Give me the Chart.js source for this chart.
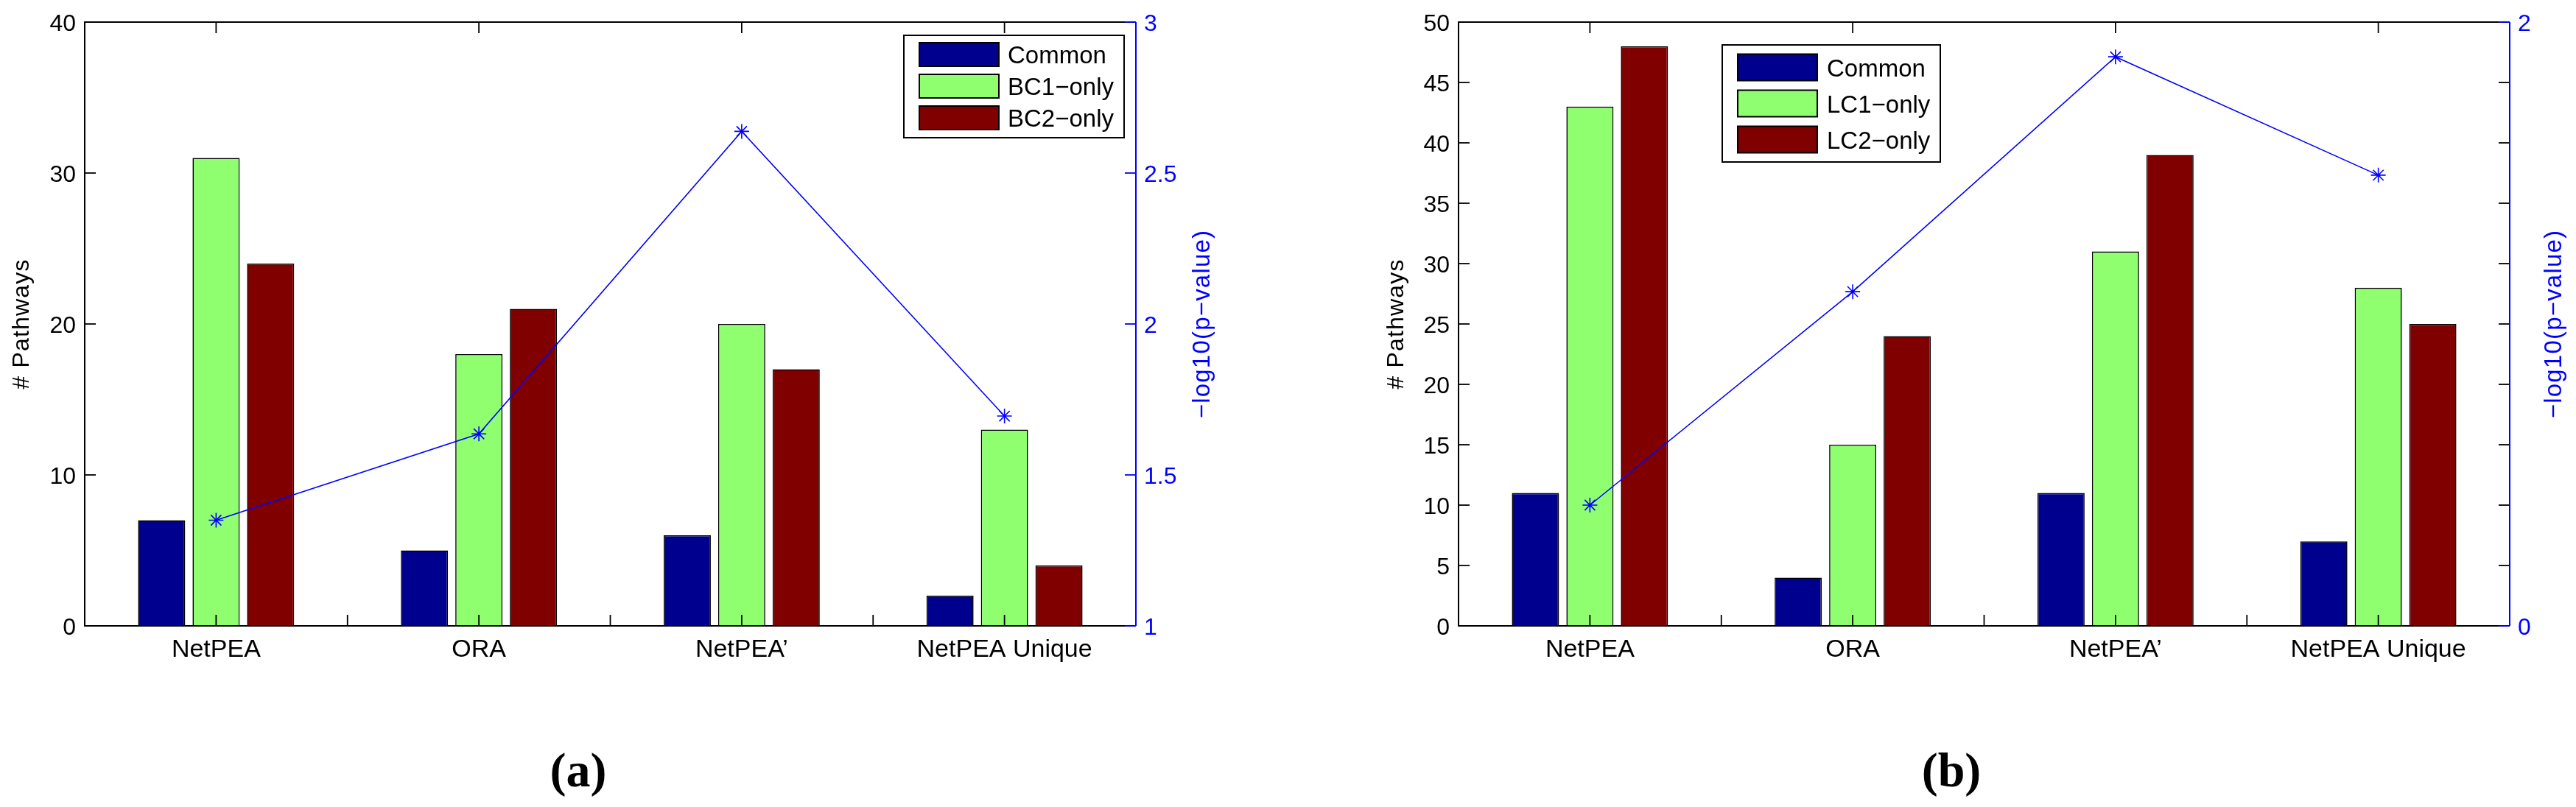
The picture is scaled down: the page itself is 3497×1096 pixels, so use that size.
<!DOCTYPE html>
<html>
<head>
<meta charset="utf-8">
<script src="https://cdn.jsdelivr.net/npm/chart.js@4.4.0/dist/chart.umd.min.js"></script>
<style>
html, body { margin: 0; padding: 0; background: #fff; }
#wrap { position: relative; width: 3497px; height: 1096px; background: #fff; overflow: hidden; }
#wrap canvas { position: absolute; top: 0; }
</style>
</head>
<body>
<div id="wrap">
  <canvas id="chartA" width="1750" height="1096" style="left:0px"></canvas>
  <canvas id="chartB" width="1747" height="1096" style="left:1750px"></canvas>
</div>
<script>
// data
const categories = ['NetPEA', 'ORA', 'NetPEA\u2019', 'NetPEA Unique'];

const commonA = [7, 5, 6, 2];
const bc1OnlyA = [31, 18, 20, 13];
const bc2OnlyA = [24, 21, 17, 4];
const pvalA = [1.35, 1.636, 2.638, 1.695];

const commonB = [11, 4, 11, 7];
const lc1OnlyB = [43, 15, 31, 28];
const lc2OnlyB = [48, 24, 39, 25];
const pvalB = [0.40, 1.107, 1.885, 1.493];

const leftTicksA = [0, 10, 20, 30, 40];
const rightTicksA = [1, 1.5, 2, 2.5, 3];
const leftTicksB = [0, 5, 10, 15, 20, 25, 30, 35, 40, 45, 50];
const rightTicksB = [0, 2];

const barColors = ['#00008f', '#8fff70', '#800000'];
const SANS = "'Liberation Sans', Arial, Helvetica, sans-serif";
const BLUE = '#0000ff';

function seg(ctx, x1, y1, x2, y2) {
    ctx.beginPath();
    ctx.moveTo(x1, y1);
    ctx.lineTo(x2, y2);
    ctx.stroke();
}

function rotText(ctx, text, x, y, font, color, spacing) {
    ctx.save();
    ctx.translate(x, y);
    ctx.rotate(-Math.PI / 2);
    ctx.font = font;
    if ('letterSpacing' in ctx) ctx.letterSpacing = spacing + 'px';
    ctx.fillStyle = color;
    ctx.textAlign = 'center';
    ctx.textBaseline = 'middle';
    ctx.fillText(text, 0, 0);
    ctx.restore();
}

// matlab style box, inward ticks, labels, legend
const matlabAxes = {
    id: 'matlabAxes',
    afterDatasetsDraw(chart, args, o) {
        const ctx = chart.ctx, a = chart.chartArea;
        const xs = chart.scales.x, ys = chart.scales.y, ys1 = chart.scales.y1;
        const T = 15;
        ctx.save();
        ctx.lineCap = 'butt';
        ctx.lineWidth = 2;
        ctx.strokeStyle = '#000';
        ctx.beginPath();
        ctx.moveTo(a.right, a.top);
        ctx.lineTo(a.left, a.top);
        ctx.lineTo(a.left, a.bottom);
        ctx.lineTo(a.right, a.bottom);
        ctx.stroke();

        ctx.lineWidth = 1.8;
        o.leftTicks.forEach(v => {
            const py = ys.getPixelForValue(v);
            seg(ctx, a.left, py, a.left + T, py);
            if (o.mirror) seg(ctx, a.right - T, py, a.right, py);
        });
        categories.forEach((c, i) => {
            const px = xs.getPixelForValue(i);
            seg(ctx, px, a.top, px, a.top + T);
            seg(ctx, px, a.bottom, px, a.bottom - T);
            if (i > 0) {
                const mid = (px + xs.getPixelForValue(i - 1)) / 2;
                seg(ctx, mid, a.bottom, mid, a.bottom - T);
            }
        });

        // right axis in blue
        ctx.strokeStyle = BLUE;
        ctx.lineWidth = 2;
        seg(ctx, a.right, a.top, a.right, a.bottom);
        ctx.lineWidth = 1.8;
        o.rightTicks.forEach(v => {
            const py = ys1.getPixelForValue(v);
            seg(ctx, a.right - T, py, a.right, py);
        });

        // tick labels
        ctx.font = '32px ' + SANS;
        ctx.textBaseline = 'alphabetic';
        ctx.fillStyle = '#000';
        ctx.textAlign = 'right';
        o.leftTicks.forEach(v => {
            ctx.fillText(String(v), a.left - 12, ys.getPixelForValue(v) + 11.5);
        });
        ctx.fillStyle = BLUE;
        ctx.textAlign = 'left';
        o.rightTicks.forEach(v => {
            ctx.fillText(String(v), a.right + 11, ys1.getPixelForValue(v) + 11.5);
        });
        ctx.font = '34px ' + SANS;
        ctx.fillStyle = '#000';
        ctx.textAlign = 'center';
        categories.forEach((c, i) => {
            ctx.fillText(c, xs.getPixelForValue(i), a.bottom + 42);
        });

        // axis titles
        const midY = (a.top + a.bottom) / 2;
        rotText(ctx, '# Pathways', a.left - o.leftTitleGap, midY, '32px ' + SANS, '#000', 1.2);
        rotText(ctx, '\u2212log10(p\u2212value)', a.right + o.rightTitleGap, midY, '33px ' + SANS, BLUE, 1.2);

        // legend
        const L = o.legend;
        ctx.lineWidth = 2;
        ctx.strokeStyle = '#000';
        ctx.fillStyle = '#fff';
        ctx.fillRect(L.box[0], L.box[1], L.box[2] - L.box[0], L.box[3] - L.box[1]);
        ctx.strokeRect(L.box[0], L.box[1], L.box[2] - L.box[0], L.box[3] - L.box[1]);
        ctx.font = '33px ' + SANS;
        ctx.textAlign = 'left';
        chart.data.datasets.filter(d => d.type !== 'line').forEach((d, i) => {
            const cy = L.rows[i];
            ctx.fillStyle = d.backgroundColor;
            ctx.fillRect(L.sw[0], cy - L.swH / 2, L.sw[1] - L.sw[0], L.swH);
            ctx.strokeRect(L.sw[0], cy - L.swH / 2, L.sw[1] - L.sw[0], L.swH);
            ctx.fillStyle = '#000';
            ctx.fillText(d.label, L.textX, cy + 12);
        });

        // panel label
        ctx.font = 'bold 66px "Liberation Serif", "Times New Roman", serif';
        ctx.fillStyle = '#000';
        ctx.textAlign = 'center';
        ctx.fillText(o.panel, o.panelX, 1068);
        ctx.restore();
    }
};

function makeChart(id, bars, names, pvals, o) {
    const datasets = [{
        type: 'line',
        label: 'p',
        data: pvals,
        yAxisID: 'y1',
        borderColor: BLUE,
        borderWidth: 1.6,
        backgroundColor: BLUE,
        pointStyle: 'star',
        pointRadius: 10,
        pointBorderColor: BLUE,
        pointBorderWidth: 1.6,
        fill: false,
        tension: 0,
        order: 0
    }];
    bars.forEach((d, i) => {
        datasets.push({
            label: names[i],
            data: d,
            yAxisID: 'y',
            backgroundColor: barColors[i],
            borderColor: '#000',
            borderWidth: 1.6,
            categoryPercentage: 0.622,
            barPercentage: 0.865,
            order: 1
        });
    });
    const hidden = { grid: { display: false }, border: { display: false }, ticks: { display: false } };
    return new Chart(document.getElementById(id), {
        type: 'bar',
        data: { labels: categories, datasets: datasets },
        options: {
            responsive: false,
            animation: false,
            devicePixelRatio: 1,
            layout: { padding: { top: 30, left: 0, right: 0, bottom: 0 } },
            plugins: {
                legend: { display: false },
                tooltip: { enabled: false },
                matlabAxes: o
            },
            scales: {
                x: Object.assign({ offset: true, afterFit(s) { s.height = 246; } }, hidden),
                y: Object.assign({ position: 'left', min: o.yMin, max: o.yMax, afterFit(s) { s.width = o.leftW; } }, hidden),
                y1: Object.assign({ position: 'right', min: o.y1Min, max: o.y1Max, afterFit(s) { s.width = o.rightW; } }, hidden)
            }
        },
        plugins: [matlabAxes]
    });
}

makeChart('chartA', [commonA, bc1OnlyA, bc2OnlyA], ['Common', 'BC1\u2212only', 'BC2\u2212only'], pvalA, {
    yMin: 0, yMax: 40, y1Min: 1, y1Max: 3,
    leftW: 115, rightW: 208,
    leftTicks: leftTicksA, rightTicks: rightTicksA, mirror: false,
    leftTitleGap: 85, rightTitleGap: 91,
    legend: { box: [1227, 48, 1526, 187], sw: [1248, 1356], rows: [74, 117, 160], swH: 32, textX: 1368 },
    panel: '(a)', panelX: 785
});

makeChart('chartB', [commonB, lc1OnlyB, lc2OnlyB], ['Common', 'LC1\u2212only', 'LC2\u2212only'], pvalB, {
    yMin: 0, yMax: 50, y1Min: 0, y1Max: 2,
    leftW: 230, rightW: 90,
    leftTicks: leftTicksB, rightTicks: rightTicksB, mirror: true,
    leftTitleGap: 84, rightTitleGap: 61,
    legend: { box: [588, 61, 884, 220], sw: [609, 717], rows: [91.5, 140.5, 189.5], swH: 36, textX: 730 },
    panel: '(b)', panelX: 899
});
</script>
</body>
</html>
